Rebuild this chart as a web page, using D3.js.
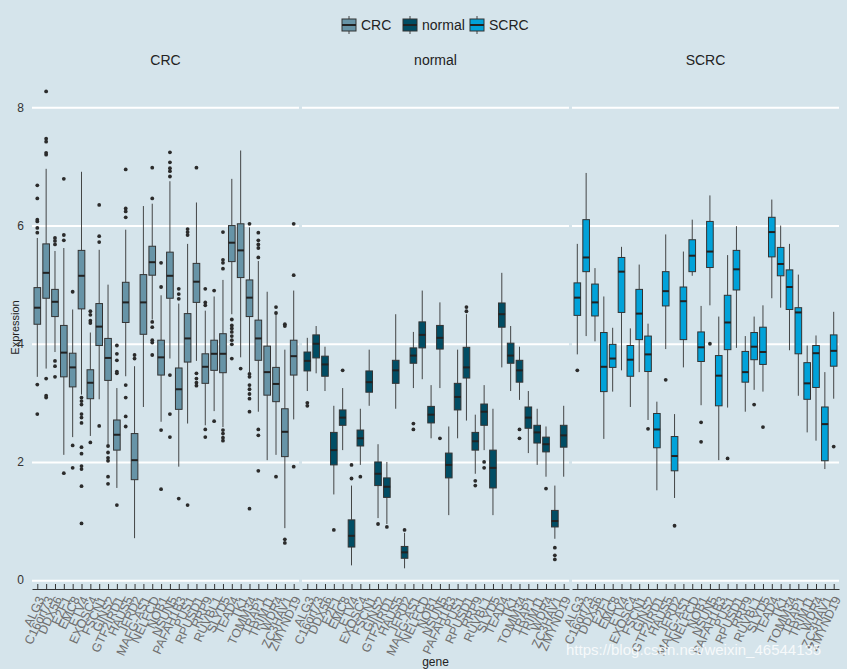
<!DOCTYPE html>
<html>
<head>
<meta charset="utf-8">
<script src="https://cdn.jsdelivr.net/npm/d3@7"></script>
<style>
  body { margin: 0; background: #d5e4eb; }
  text { font-family: "Liberation Sans", Arial, sans-serif; }
</style>
</head>
<body>
<div id="chart"></div>
<script>
// genes along the x axis of every facet
const genes = ["ALG3","C16orf73","DDX56","E2F1","EMC8","ETV4","EXOSC4","FSCN1","GINS2","GTF2IRD1",
  "HAUS5","IFRD2","MAFG-AS1","NELFCD","NOB1","NSUN5","PAFAH1B3","PUS1","RPUSD1","RRP9",
  "RUVBL1","SLYD5","TEAD4","TK1","TOMM34","TRAP1","TRIM11","WDR4","ZC3HAV1","ZMYND19"];
const groups = ["CRC", "normal", "SCRC"];
const groupColors = ["#6794a7", "#014d64", "#01a2d9"];
const yTicks = [0, 2, 4, 6, 8];

// box stats per gene: [lower whisker, Q1, median, Q3, upper whisker]
const crcStats = [
  [3.44,4.33,4.61,4.95,5.79],[3.58,4.77,5.20,5.69,6.96],[3.86,4.46,4.71,4.92,5.57],[2.12,3.44,3.85,4.31,5.62],
  [2.42,3.27,3.60,3.84,4.58],[3.14,4.59,5.15,5.58,6.91],[2.44,3.07,3.34,3.56,4.19],[3.06,3.97,4.29,4.68,5.59],
  [2.30,3.38,3.76,4.09,5.00],[1.56,2.20,2.46,2.71,3.25],[3.45,4.36,4.70,5.04,5.93],[0.71,1.70,2.03,2.48,3.62],
  [2.93,4.16,4.70,5.17,6.33],[4.41,5.16,5.38,5.65,6.37],[2.68,3.47,3.77,4.06,4.82],[3.75,4.77,5.15,5.55,6.75],
  [1.92,2.89,3.23,3.59,4.68],[2.65,3.69,4.09,4.51,5.69],[3.71,4.70,5.05,5.36,6.39],[2.62,3.33,3.61,3.83,4.56],
  [2.86,3.55,3.83,4.06,4.80],[2.59,3.51,3.83,4.17,5.08],[4.50,5.39,5.71,6.00,6.79],[3.77,5.12,5.58,6.03,7.27],
  [3.52,4.46,4.78,5.08,5.97],[2.85,3.72,4.09,4.40,5.40],[2.03,3.13,3.52,3.96,4.88],[2.12,3.02,3.32,3.60,4.50],
  [0.88,2.09,2.51,2.90,3.90],[2.72,3.47,3.79,4.06,4.90]
];
const crcOutliers = [
  [6.68,6.46,6.10,6.07,5.96,5.88,3.31,2.81],[8.27,7.47,7.42,7.23,7.20,3.41,3.12,3.09],[5.79,5.74,5.68,3.71,3.62,3.44],
  [6.79,5.84,5.75,1.81],[4.88,2.28,1.90],[3.09,3.03,2.97,2.81,2.75,2.66,2.25,2.14,1.93,1.88,1.59,0.96],
  [4.55,4.49,4.39,4.35,2.33],[6.35,5.82,5.72,2.61],[2.27,2.16,2.07,2.02,1.75,1.63],
  [3.97,3.83,3.72,3.53,3.50,1.27],[6.95,6.29,6.24,6.14,3.30,3.09,2.77,2.60],[3.81,3.75],
  [],[6.98,6.46,4.37,4.28,4.06,4.02,3.81],[5.37,4.96,2.54,1.54],
  [7.24,7.07,6.97,6.92,6.83,3.47,2.81,2.42],[4.93,4.84,4.76,1.38],[5.94,5.89,5.84,1.27],
  [6.98,3.50,3.41,3.34,3.29],[4.93,4.70,4.65,2.55,2.42],[4.90,2.69],
  [5.89,5.42,5.37,5.27,2.54,2.48,2.41,2.36],[4.41,4.31,4.26,4.20,4.13,4.06,3.99,3.75],[3.58],
  [6.03,3.49,3.44,3.30,3.23,3.15,3.07,2.85,1.21],[5.88,5.75,5.68,5.62,5.46,2.55,2.45,1.85],[],
  [4.62,4.52,1.75],[4.33,4.30,0.69,0.63],[6.03,5.16,1.92]
];

const normalStats = [
  [3.20,3.54,3.71,3.86,4.10],[3.50,3.76,4.00,4.15,4.30],[3.20,3.45,3.65,3.79,3.95],[1.45,1.95,2.20,2.50,2.95],
  [2.20,2.62,2.75,2.88,3.25],[0.25,0.56,0.75,1.02,1.60],[1.95,2.27,2.40,2.54,2.90],[2.95,3.18,3.35,3.54,3.90],
  [1.05,1.60,1.80,2.00,2.30],[0.95,1.40,1.58,1.73,2.00],[2.90,3.33,3.55,3.72,4.50],[0.20,0.37,0.47,0.57,0.80],
  [3.25,3.67,3.80,3.93,4.20],[3.40,3.93,4.15,4.37,4.90],[2.40,2.66,2.80,2.94,3.30],[3.25,3.91,4.10,4.31,4.70],
  [1.10,1.73,1.95,2.15,2.60],[2.40,2.88,3.10,3.33,3.90],[2.70,3.42,3.60,3.94,4.50],[1.80,2.20,2.35,2.50,2.80],
  [2.20,2.62,2.85,2.98,3.30],[1.10,1.56,1.90,2.20,2.90],[3.60,4.28,4.50,4.69,5.20],[3.20,3.67,3.80,4.01,4.30],
  [3.05,3.35,3.55,3.72,3.95],[2.15,2.57,2.75,2.93,3.20],[1.95,2.32,2.50,2.62,2.90],[1.75,2.17,2.30,2.42,2.60],
  [0.70,0.90,1.00,1.18,1.60],[1.75,2.25,2.45,2.62,2.95]
];
const normalOutliers = [
  [2.95,3.00],[],[],[0.85],[3.55],[1.95,1.72],[1.75],[],[0.95],[0.90],
  [],[0.85],[2.65,2.55],[],[],[2.40],[],[],[4.62,4.55],[1.68,1.60],
  [2.00,1.90],[],[],[],[2.55,2.40],[],[],[1.55],[0.55,0.42,0.35],[]
];

const scrcStats = [
  [3.82,4.48,4.78,5.03,5.69],[4.13,5.22,5.46,6.10,6.89],[4.04,4.47,4.70,5.01,5.28],[2.39,3.19,3.61,4.19,4.80],
  [3.19,3.60,3.75,3.99,4.27],[3.55,4.53,5.22,5.46,5.64],[2.93,3.45,3.73,3.97,4.26],[3.52,4.07,4.51,4.92,5.34],
  [2.71,3.53,3.82,4.13,4.34],[1.52,2.24,2.55,2.82,3.02],[3.91,4.64,4.89,5.22,5.85],[1.39,1.85,2.10,2.43,2.81],
  [3.60,4.07,4.72,4.96,5.56],[5.15,5.22,5.49,5.76,6.10],[2.96,3.70,3.94,4.20,4.64],[4.65,5.29,5.56,6.07,6.51],
  [2.03,2.95,3.46,3.80,4.46],[2.92,3.90,4.36,4.82,5.50],[3.93,4.91,5.26,5.58,5.99],[2.85,3.35,3.52,3.87,4.13],
  [3.22,3.73,3.95,4.19,4.46],[3.19,3.65,3.86,4.28,4.65],[4.77,5.47,5.89,6.14,6.44],[4.61,5.15,5.35,5.63,6.00],
  [3.89,4.58,4.96,5.25,5.69],[3.12,3.83,4.53,4.61,5.17],[2.50,3.06,3.33,3.68,3.97],[2.36,3.26,3.84,3.97,4.14],
  [1.88,2.02,2.64,2.93,3.52],[3.07,3.62,3.88,4.15,4.54]
];
const scrcOutliers = [
  [3.55],[],[],[],[],[],[],[],[2.56],[],
  [3.39],[0.92],[],[],[2.67,2.34],[4.00],[],[2.06],[],[],
  [2.97],[2.59],[],[],[],[],[],[],[],[2.26]
];

const allStats = [crcStats, normalStats, scrcStats];
const allOutliers = [crcOutliers, normalOutliers, scrcOutliers];

const W = 847, H = 669;
const panels = [[32, 299], [302, 569], [572, 839]];

const svg = d3.select("#chart").append("svg")
  .attr("width", W).attr("height", H);

svg.append("rect").attr("width", W).attr("height", H).attr("fill", "#d5e4eb");

const y = d3.scaleLinear().domain([-0.15, 8.7]).range([589, 66]);

groups.forEach((grp, gi) => {
  const [x0, x1] = panels[gi];
  const x = d3.scalePoint().domain(genes).range([x0, x1]).padding(0.6);
  const bw = x.step() * 0.75;
  const panel = svg.append("g");

  // horizontal grid lines (and y labels on the first panel)
  const yAxis = panel.append("g")
    .attr("transform", `translate(${x0},0)`)
    .call(d3.axisLeft(y).tickValues(yTicks).tickSize(-(x1 - x0)).tickPadding(8)
      .tickFormat(gi === 0 ? d3.format("d") : ""));
  yAxis.select(".domain").remove();
  yAxis.selectAll("line").attr("stroke", "#ffffff").attr("stroke-width", 2);
  yAxis.selectAll("text").attr("fill", "#333").style("font-size", "12px");

  // facet strip title
  panel.append("text")
    .attr("x", (x0 + x1) / 2).attr("y", 65)
    .attr("text-anchor", "middle")
    .style("font-size", "14px").attr("fill", "#222")
    .text(grp);

  // x axis with inward ticks and slanted gene names
  const xAxis = panel.append("g")
    .attr("transform", "translate(0,589)")
    .call(d3.axisBottom(x).tickSizeInner(-5).tickSizeOuter(0));
  xAxis.select(".domain").attr("stroke", "#333").attr("stroke-width", 1.2);
  xAxis.selectAll("line").attr("stroke", "#333");
  xAxis.selectAll("text")
    .attr("x", 0).attr("y", 0).attr("dy", "0.35em")
    .attr("text-anchor", "end")
    .attr("transform", "translate(3,8) rotate(-65)")
    .attr("fill", "#6f6f6f")
    .style("font-size", "12.5px");

  // boxes
  const stats = allStats[gi];
  const outs = allOutliers[gi];
  const boxes = panel.selectAll("g.box")
    .data(genes.map((g, i) => ({gene: g, s: stats[i], o: outs[i]})))
    .join("g").attr("class", "box")
    .attr("transform", d => `translate(${x(d.gene)},0)`);

  boxes.append("line")
    .attr("y1", d => y(d.s[4])).attr("y2", d => y(d.s[3]))
    .attr("stroke", "#333").attr("stroke-width", 0.9);
  boxes.append("line")
    .attr("y1", d => y(d.s[1])).attr("y2", d => y(d.s[0]))
    .attr("stroke", "#333").attr("stroke-width", 0.9);
  boxes.append("rect")
    .attr("x", -bw / 2).attr("width", bw)
    .attr("y", d => y(d.s[3]))
    .attr("height", d => y(d.s[1]) - y(d.s[3]))
    .attr("fill", groupColors[gi])
    .attr("stroke", "#333").attr("stroke-width", 1);
  boxes.append("line")
    .attr("x1", -bw / 2).attr("x2", bw / 2)
    .attr("y1", d => y(d.s[2])).attr("y2", d => y(d.s[2]))
    .attr("stroke", "#222").attr("stroke-width", 2);
  boxes.selectAll("circle")
    .data(d => d.o)
    .join("circle")
    .attr("cy", v => y(v)).attr("r", 1.9)
    .attr("fill", "#2b2b2b");
});

// legend on top
const legendX = [349, 410, 477];
const legend = svg.append("g").attr("transform", "translate(0,25)");
groups.forEach((grp, gi) => {
  const lg = legend.append("g").attr("transform", `translate(${legendX[gi]},0)`);
  lg.append("line").attr("y1", -9).attr("y2", 9).attr("stroke", "#333").attr("stroke-width", 0.9);
  lg.append("rect").attr("x", -7).attr("y", -6).attr("width", 14).attr("height", 12)
    .attr("fill", groupColors[gi]).attr("stroke", "#333").attr("stroke-width", 1);
  lg.append("line").attr("x1", -7).attr("x2", 7).attr("stroke", "#222").attr("stroke-width", 2);
  lg.append("text").attr("x", 12).attr("dy", "0.35em")
    .style("font-size", "14px").attr("fill", "#222").text(grp);
});

// axis titles
svg.append("text")
  .attr("x", (32 + 839) / 2).attr("y", 666)
  .attr("text-anchor", "middle").style("font-size", "12px").attr("fill", "#222")
  .text("gene");
svg.append("text")
  .attr("transform", `translate(19,${(66 + 589) / 2}) rotate(-90)`)
  .attr("text-anchor", "middle").style("font-size", "11px").attr("fill", "#222")
  .text("Expression");

// watermark
svg.append("text")
  .attr("x", 566).attr("y", 655)
  .style("font-size", "15px").attr("fill", "#ffffff").attr("opacity", 0.8)
  .text("https://blog.csdn.net/weixin_46544135");
</script>
</body>
</html>
